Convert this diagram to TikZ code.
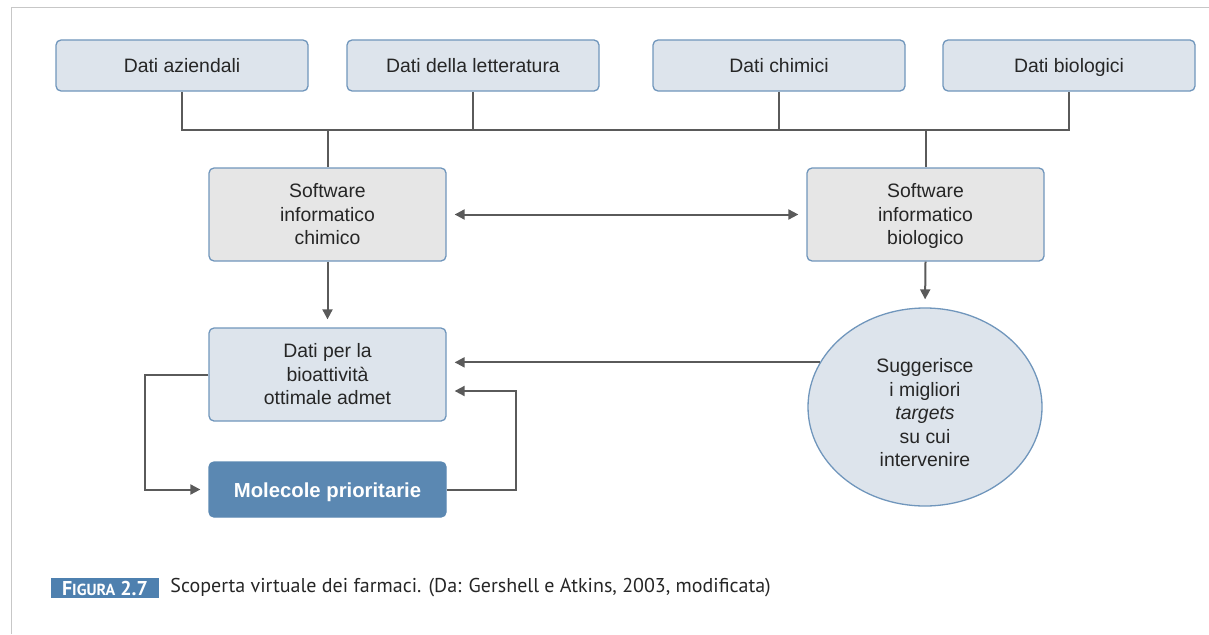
\documentclass[tikz,border=0pt]{standalone}
\usepackage{fontspec}
\setmainfont{Liberation Sans}
\newfontfamily\capfont{PT Sans}
\usetikzlibrary{arrows.meta, shapes.geometric}
\definecolor{boxblue}{HTML}{DDE4EC}
\definecolor{boxgray}{HTML}{E6E6E6}
\definecolor{edgeblue}{HTML}{7096BC}
\definecolor{molblue}{HTML}{5B88B2}
\definecolor{figblue}{HTML}{4E80AF}
\definecolor{linegray}{HTML}{5A5A5A}
\begin{document}
\begin{tikzpicture}[x=1pt, y=-1pt,
  box/.style = {draw=edgeblue, line width=1.3pt, rounded corners=5pt, align=center, text=black!85, text depth=0.5pt, font=\fontsize{19.4}{23.5}\selectfont},
  dati/.style = {box, fill=boxblue, text height=18pt, text depth=4.5pt, minimum width=252pt, minimum height=51pt},
  soft/.style = {box, fill=boxgray, minimum width=237pt, minimum height=93pt},
  link/.style = {draw=linegray, line width=2pt},
  tip/.tip = {Triangle[length=10pt, width=10pt]},
  arr/.style = {link, -tip, shorten >=8pt}]
\useasboundingbox (0,0) rectangle (1209,634);
\draw[black!22, line width=1pt] (11,634) -- (11,8) -- (1209,8);
\node[dati] (d1) at (182,65.5) {Dati aziendali};
\node[dati] (d2) at (473,65.5) {Dati della letteratura};
\node[dati] (d3) at (779,65.5) {Dati chimici};
\node[dati] (d4) at (1069,65.5) {Dati biologici};
\node[soft] (sc) at (327.5,214.5) {Software\\informatico\\chimico};
\node[soft] (sb) at (925.5,214.5) {Software\\informatico\\biologico};
\node[soft, fill=boxblue] (bio) at (327.5,374.5) {Dati per la\\bioattività\\ottimale admet};
\node[box, fill=molblue, draw=molblue, text height=20pt, text depth=4.5pt, minimum width=237pt, minimum height=55pt, text=white, font=\fontsize{20.3}{24}\selectfont\bfseries] (mol) at (327.5,489.5) {Molecole prioritarie};
\node[box, ellipse, fill=boxblue, text height=124pt, text depth=4.5pt, minimum width=234pt, minimum height=198pt] (sug) at (925,407) {Suggerisce\\i migliori\\\textit{targets}\\su cui\\intervenire};
\coordinate (bar) at (0,130);
\draw[link] (d1.south) -- (d1.south |- bar) -- (d4.south |- bar) -- (d4.south);
\draw[link] (d2.south) -- (d2.south |- bar);
\draw[link] (d3.south) -- (d3.south |- bar);
\draw[link] (sc.north |- bar) -- (sc.north);
\draw[link] (sb.north |- bar) -- (sb.north);
\draw[arr, tip-tip, shorten <=8pt] (sc.east) -- (sb.west);
\draw[arr] (sc.south) -- (bio.north);
\draw[arr] (sb.south) -- (sug.north);
\draw[arr] (sug.157) -- (bio.east |- sug.157);
\draw[arr] (mol.east) -- (516,489.5) -- (516,391) -- (bio.east |- 0,391);
\draw[arr] (bio.west) -- (145,374.5) -- (145,489.5) -- (mol.west);
\node[fill=figblue, text=white, font=\capfont\bfseries\fontsize{20}{22}\selectfont, minimum width=108pt, minimum height=20pt, inner sep=0pt] (fig) at (105,588) {F{\fontsize{16}{18}\selectfont IGURA} 2.7};
\node[anchor=west, font=\capfont\fontsize{20}{22}\selectfont, text=black!85, inner sep=0pt] (cap) at ([xshift=11pt]fig.east) {Scoperta virtuale dei farmaci. (Da: Gershell e Atkins, 2003, modificata)};
\end{tikzpicture}
\end{document}
